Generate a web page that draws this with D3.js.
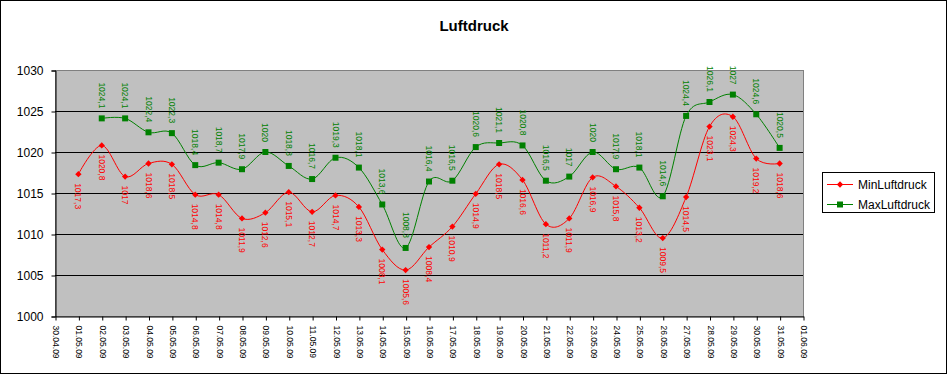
<!DOCTYPE html>
<html>
<head>
<meta charset="utf-8">
<script src="https://cdn.jsdelivr.net/npm/d3@7"></script>
<style>
  body { margin: 0; background: #fff; }
  svg { display: block; font-family: "Liberation Sans", Arial, sans-serif; }
  svg text { font-family: "Liberation Sans", Arial, sans-serif; }
</style>
</head>
<body>
<svg></svg>
<script>
const dates = ['30.04.09','01.05.09','02.05.09','03.05.09','04.05.09','05.05.09','06.05.09','07.05.09',
  '08.05.09','09.05.09','10.05.09','11.05.09','12.05.09','13.05.09','14.05.09','15.05.09','16.05.09',
  '17.05.09','18.05.09','19.05.09','20.05.09','21.05.09','22.05.09','23.05.09','24.05.09','25.05.09',
  '26.05.09','27.05.09','28.05.09','29.05.09','30.05.09','31.05.09','01.06.09'];

const minLuftdruck = [null, 1017.3, 1020.8, 1017, 1018.6, 1018.5, 1014.8, 1014.8, 1011.9, 1012.6, 1015.1,
  1012.7, 1014.7, 1013.3, 1008.1, 1005.6, 1008.4, 1010.9, 1014.9, 1018.5, 1016.6, 1011.2, 1011.9,
  1016.9, 1015.8, 1013.2, 1009.5, 1014.5, 1023.1, 1024.3, 1019.2, 1018.6, null];

const maxLuftdruck = [null, null, 1024.1, 1024.1, 1022.4, 1022.3, 1018.4, 1018.7, 1017.9, 1020, 1018.3,
  1016.7, 1019.3, 1018.1, 1013.6, 1008.3, 1016.4, 1016.5, 1020.6, 1021.1, 1020.8, 1016.5, 1017,
  1020, 1017.9, 1018.1, 1014.6, 1024.4, 1026.1, 1027, 1024.6, 1020.5, null];

const yTicks = [1000, 1005, 1010, 1015, 1020, 1025, 1030];

const svg = d3.select('svg').attr('width', 948).attr('height', 375);

// outer frame
svg.append('rect').attr('x', 0.5).attr('y', 0.5).attr('width', 946).attr('height', 373)
  .attr('fill', '#fff').attr('stroke', '#000').attr('stroke-width', 1);

svg.append('text').attr('x', 474).attr('y', 31).attr('text-anchor', 'middle')
  .attr('font-size', '15px').attr('font-weight', 'bold').text('Luftdruck');

const x = d3.scalePoint().domain(dates).range([55, 803]);
const y = d3.scaleLinear().domain([1000, 1030]).range([316, 70]);

// plot area
svg.append('rect').attr('x', 55.5).attr('y', 70.5).attr('width', 748).attr('height', 246)
  .attr('fill', '#c0c0c0').attr('stroke', '#808080');

svg.selectAll('.grid').data(yTicks.filter(d => d > 1000 && d < 1030))
  .enter().append('line')
  .attr('x1', 55).attr('x2', 803)
  .attr('y1', d => Math.round(y(d)) + 0.5).attr('y2', d => Math.round(y(d)) + 0.5)
  .attr('stroke', '#000');

const yAxis = svg.append('g').attr('transform', 'translate(55.5,0.5)')
  .call(d3.axisLeft(y).tickValues(yTicks).tickSize(4).tickPadding(8).tickFormat(d3.format('d')));
yAxis.attr('font-family', null);
yAxis.select('.domain').attr('stroke', '#000');
yAxis.selectAll('text').attr('font-size', '12px');

const xAxis = svg.append('g').attr('transform', 'translate(0.5,316.5)')
  .call(d3.axisBottom(x).tickSize(4).tickSizeOuter(0));
xAxis.attr('font-family', null);
xAxis.selectAll('text')
  .attr('font-size', '8.5px')
  .attr('text-anchor', 'start')
  .attr('transform', 'rotate(90)')
  .attr('x', 9).attr('y', 0).attr('dy', '0.35em');

const line = d3.line()
  .defined(d => d.v != null)
  .x(d => x(d.date)).y(d => y(d.v))
  .curve(d3.curveCatmullRom.alpha(0));

const series = [
  { name: 'MinLuftdruck', values: minLuftdruck, color: '#ff0000', rot: 45, size: 20, below: true },
  { name: 'MaxLuftdruck', values: maxLuftdruck, color: '#008000', rot: 0, size: 36, below: false }
];

series.forEach(s => {
  const pts = dates.map((date, i) => ({ date, v: s.values[i] }));
  const shown = pts.filter(d => d.v != null);

  svg.append('path').datum(pts)
    .attr('d', line).attr('fill', 'none').attr('stroke', s.color).attr('stroke-width', 1);

  svg.append('g').selectAll('path').data(shown).enter().append('path')
    .attr('transform', d => `translate(${x(d.date)},${y(d.v)}) rotate(${s.rot})`)
    .attr('d', d3.symbol().type(d3.symbolSquare).size(s.size))
    .attr('fill', s.color);

  svg.append('g').selectAll('text').data(shown).enter().append('text')
    .attr('transform', d => `translate(${x(d.date)},${y(d.v) + (s.below ? 9 : -10)}) rotate(90)`)
    .attr('text-anchor', s.below ? 'start' : 'end')
    .attr('dy', '0.35em')
    .attr('font-size', '8.5px')
    .attr('fill', s.color)
    .text(d => String(d.v).replace('.', ','));
});

// legend
const legend = svg.append('g');
legend.append('rect').attr('x', 822.5).attr('y', 172.5).attr('width', 112).attr('height', 40)
  .attr('fill', '#fff').attr('stroke', '#000');
series.forEach((s, i) => {
  const ly = 184 + i * 20;
  legend.append('line').attr('x1', 827).attr('x2', 853).attr('y1', ly + 0.5).attr('y2', ly + 0.5)
    .attr('stroke', s.color);
  legend.append('path').attr('transform', `translate(840,${ly + 0.5}) rotate(${s.rot})`)
    .attr('d', d3.symbol().type(d3.symbolSquare).size(s.size)).attr('fill', s.color);
  legend.append('text').attr('x', 858).attr('y', ly + 4.5).attr('font-size', '12px').text(s.name);
});
</script>
</body>
</html>
